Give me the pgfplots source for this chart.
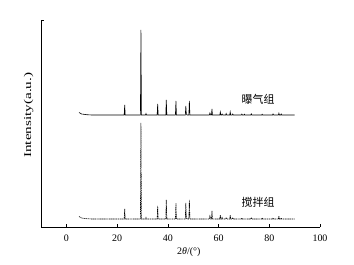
\documentclass[border=0pt]{standalone}
\usepackage{pgfplots}
\pgfplotsset{compat=1.18}
\usepackage{fontspec}
\setmainfont{Liberation Serif}
\newfontfamily\cjk{Noto Sans CJK SC}
\begin{document}
\begin{tikzpicture}
\begin{axis}[name=ax, at={(0,0)}, anchor=south west,
  scale only axis, width=279bp, height=207bp,
  xmin=-10, xmax=100, ymin=0, ymax=207,
  axis x line*=bottom, axis y line*=left,
  axis line style={line width=0.8pt, -},
  xtick={0,20,40,60,80,100},
  ytick={207}, yticklabels={},
  tick align=inside, tick style={black, line width=0.6pt},
  major tick length=3.5pt,
  /pgf/number format/assume math mode=true,
  ticklabel style={font=\fontsize{10}{12}\selectfont},
  xticklabel style={yshift=-4pt},
  xlabel={2\textit{θ}/(°)},
  xlabel style={font=\fontsize{10}{12}\selectfont, at={(axis description cs:0.53,0)}, anchor=north, yshift=-17pt},
  ylabel={\scalebox{1.45}[1]{Intensity(a.u.)}},
  ylabel style={font=\fontsize{10.5}{12}\selectfont, at={(axis description cs:0,0.54)}, anchor=south, yshift=4pt},
  clip=false,
]
% upper (aeration group), baseline 112
\addplot[black, line width=0.6pt] coordinates {
(5,114.5)(6,113)(8,112.3)(10,112)
(22.8,112)(23.0,122)(23.2,112)
(29.2,112)(29.4,197)(29.6,112)
(31.2,112)(31.4,113.5)(31.6,112)
(35.8,112)(36.0,123)(36.2,112)
(39.2,112)(39.4,127)(39.6,112)
(43.0,112)(43.2,126)(43.4,112)
(46.9,112)(47.1,121)(47.3,113)(47.6,112)(48.3,112)(48.5,126)(48.7,112)
(56.4,112)(56.6,114)(56.9,112)(57.2,112)(57.4,118)(57.6,112)
(60.5,112)(60.7,115)(60.9,112)
(61.2,112)(61.4,113)(61.6,112)
(62.8,112)(63.0,113.5)(63.2,112)
(64.4,112)(64.6,115)(64.8,112)
(65.4,112)(65.6,113)(65.8,112)
(69.0,112)(69.2,113)(69.4,112)
(70.0,112)(70.2,112.8)(70.4,112)
(72.7,112)(72.9,113.2)(73.1,112)
(77.0,112)(77.2,112.8)(77.4,112)
(81.3,112)(81.5,113)(81.7,112)
(83.6,112)(83.8,113.8)(84.0,112)
(84.5,112)(84.7,113)(84.9,112)
(90,112)
};
% lower (stirring group), baseline 8
\addplot[black, line width=0.6pt, dash pattern=on 1.2pt off 0.6pt] coordinates {
(5,10.5)(6,9)(8,8.3)(10,8)
(22.8,8)(23.0,18)(23.2,8)
(29.2,8)(29.4,104)(29.6,8)
(31.2,8)(31.4,9.5)(31.6,8)
(35.8,8)(36.0,21)(36.2,8)
(39.2,8)(39.4,27)(39.6,8)
(43.0,8)(43.2,24)(43.4,8)
(46.9,8)(47.1,24)(47.3,9)(47.6,8)(48.3,8)(48.5,27)(48.7,8)
(56.4,8)(56.6,11)(56.9,8)(57.2,8)(57.4,16)(57.6,8)
(60.5,8)(60.7,12)(60.9,8)
(61.2,8)(61.4,9.5)(61.6,8)
(62.8,8)(63.0,9.5)(63.2,8)
(64.4,8)(64.6,12)(64.8,8)
(65.4,8)(65.6,9.5)(65.8,8)
(69.0,8)(69.2,9)(69.4,8)
(72.7,8)(72.9,9.5)(73.1,8)
(77.0,8)(77.2,9)(77.4,8)
(81.3,8)(81.5,9)(81.7,8)
(83.6,8)(83.8,11)(84.0,8)
(84.5,8)(84.7,9)(84.9,8)
(90,8)
};
\node[font=\cjk\fontsize{11}{12}\selectfont] at (axis cs:75.6,128) {曝气组};
\node[font=\cjk\fontsize{11}{12}\selectfont] at (axis cs:75.6,25) {搅拌组};
\end{axis}
\pgfresetboundingbox
\path (ax.south west) ++(-41bp,-38bp) rectangle ++(354bp,265bp);
\end{tikzpicture}
\end{document}
